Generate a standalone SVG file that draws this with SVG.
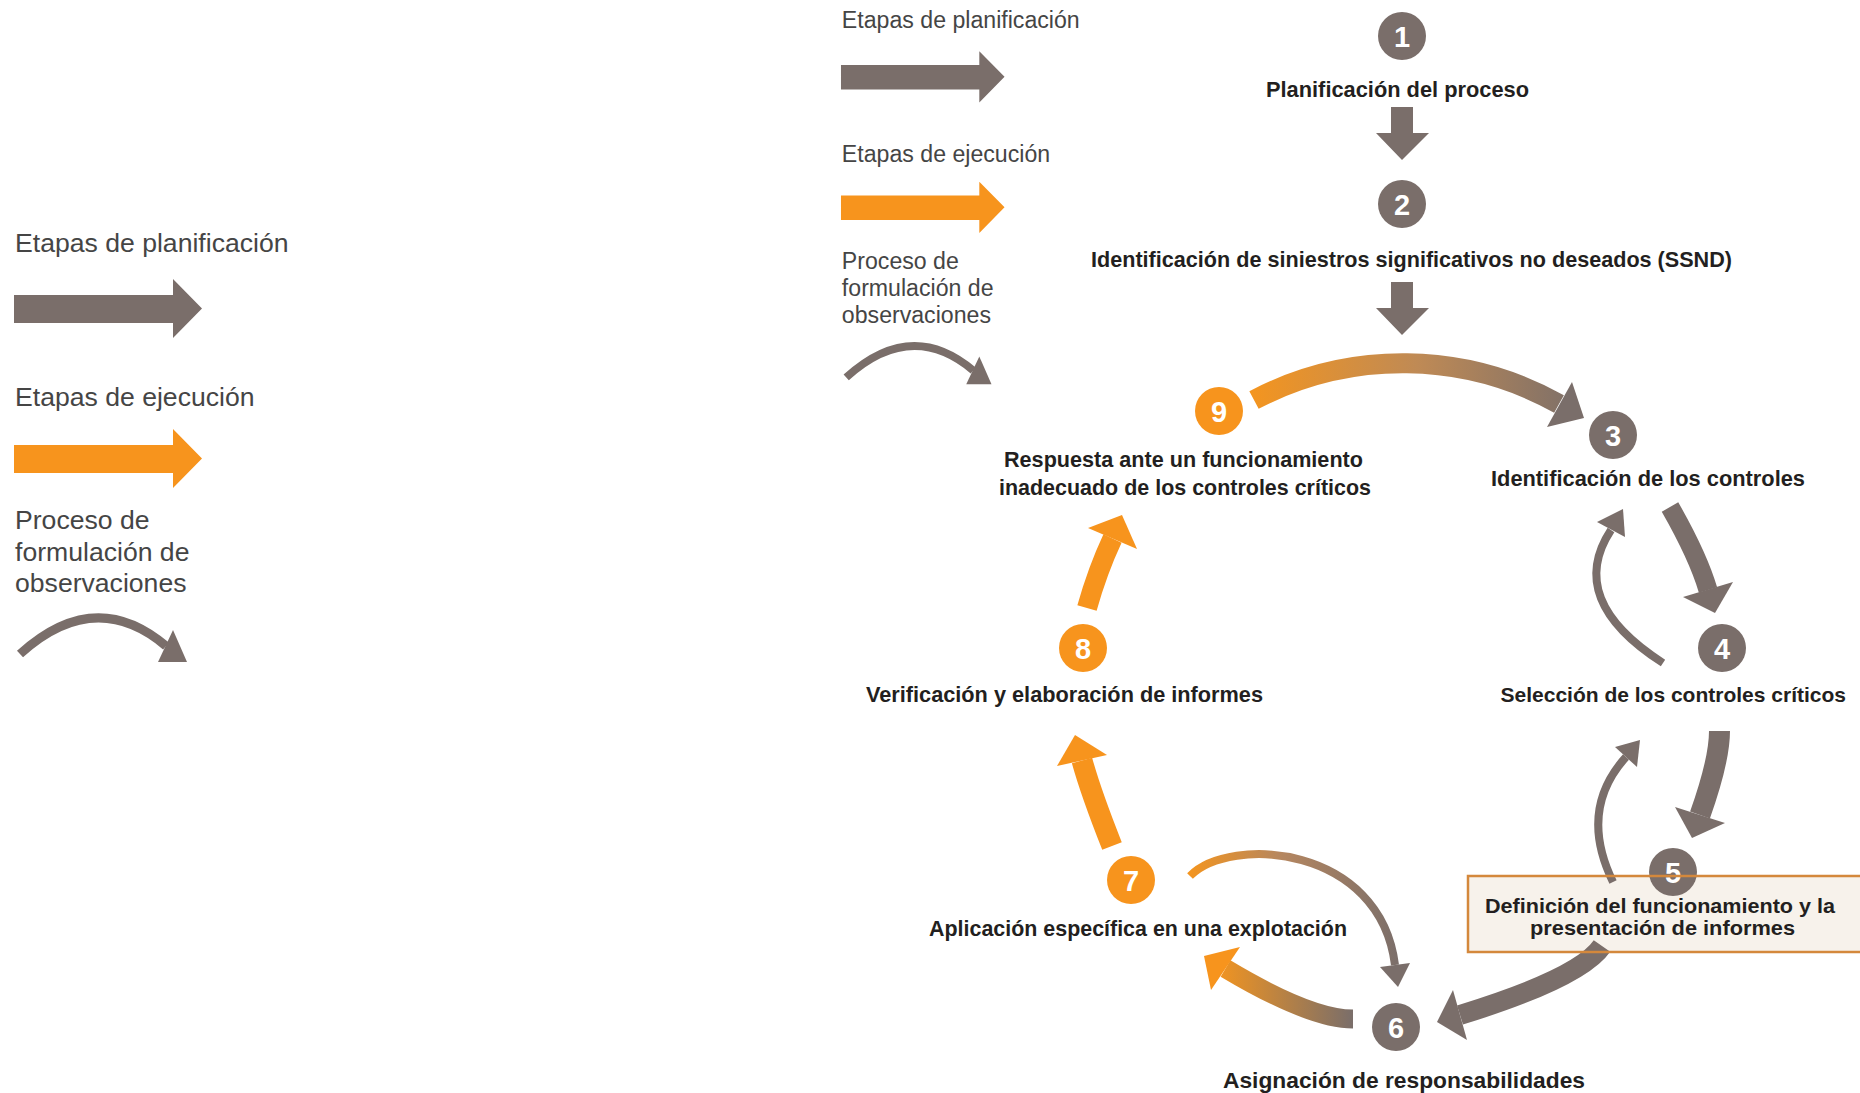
<svg xmlns="http://www.w3.org/2000/svg" width="1860" height="1093" viewBox="0 0 1860 1093">
  <style>
    .lg { font-family: "Liberation Sans", Arial, sans-serif; font-size: 26.6px; fill: #454545; }
    .lb { font-family: "Liberation Sans", Arial, sans-serif; font-size: 22.5px; font-weight: bold; fill: #231f20; }
    .lb2 { font-family: "Liberation Sans", Arial, sans-serif; font-size: 20.5px; font-weight: bold; fill: #231f20; }
    .num { font-family: "Liberation Sans", Arial, sans-serif; font-size: 29px; font-weight: bold; fill: #ffffff; text-anchor: middle; }
    .gray { fill: #7a6e6a; }
    .orange { fill: #f7941d; }
    .sg { fill: none; stroke: #7a6e6a; stroke-linecap: butt; }
    .so { fill: none; stroke: #f7941d; stroke-linecap: butt; }
  </style>
  <defs>
    <linearGradient id="grad-9-3" gradientUnits="userSpaceOnUse" x1="1250" y1="0" x2="1585" y2="0">
      <stop offset="0" stop-color="#f4951f"/>
      <stop offset="0.5" stop-color="#bf8a55"/>
      <stop offset="1" stop-color="#7a6e6a"/>
    </linearGradient>
    <linearGradient id="grad-6-7" gradientUnits="userSpaceOnUse" x1="1353" y1="0" x2="1215" y2="0">
      <stop offset="0" stop-color="#7a6e6a"/>
      <stop offset="1" stop-color="#f4951f"/>
    </linearGradient>
    <linearGradient id="grad-7-6" gradientUnits="userSpaceOnUse" x1="1188" y1="0" x2="1400" y2="0">
      <stop offset="0" stop-color="#f4951f"/>
      <stop offset="0.45" stop-color="#b48660"/>
      <stop offset="1" stop-color="#7a6e6a"/>
    </linearGradient>
  </defs>

  <rect width="1860" height="1093" fill="#ffffff"/>

  <!-- legend, left -->
  <g id="legend">
    <text class="lg" x="15" y="252">Etapas de planificación</text>
    <polygon class="gray" points="14,295 173,295 173,279 202,308.5 173,338 173,323 14,323"/>
    <text class="lg" x="15" y="406">Etapas de ejecución</text>
    <polygon class="orange" points="14,445 173,445 173,429 202,458.5 173,488 173,473 14,473"/>
    <text class="lg" x="15" y="529">Proceso de</text>
    <text class="lg" x="15" y="561">formulación de</text>
    <text class="lg" x="15" y="592">observaciones</text>
    <path class="sg" stroke-width="9" d="M20,654 Q95,586 166,646"/>
    <polygon class="gray" points="173,630 187,662 158,662"/>
  </g>

  <!-- legend, top (smaller copy) -->
  <g id="legend-top" transform="translate(828.8 -191.6) scale(0.87)">
    <text class="lg" x="15" y="252">Etapas de planificación</text>
    <polygon class="gray" points="14,295 173,295 173,279 202,308.5 173,338 173,323 14,323"/>
    <text class="lg" x="15" y="406">Etapas de ejecución</text>
    <polygon class="orange" points="14,445 173,445 173,429 202,458.5 173,488 173,473 14,473"/>
    <text class="lg" x="15" y="529">Proceso de</text>
    <text class="lg" x="15" y="561">formulación de</text>
    <text class="lg" x="15" y="592">observaciones</text>
    <path class="sg" stroke-width="9" d="M20,654 Q95,586 166,646"/>
    <polygon class="gray" points="173,630 187,662 158,662"/>
  </g>

  <!-- box background behind step 5 -->
  <rect id="box-5-fill" x="1468" y="876" width="400" height="76" fill="#f7f2eb"/>

  <!-- connectors -->
  <g id="connectors">
    <!-- 1 -> 2 -->
    <polygon class="gray" points="1391,107 1413,107 1413,133 1429,133 1402,160 1376,133 1391,133"/>
    <!-- 2 -> 3 -->
    <polygon class="gray" points="1391,282 1413,282 1413,308 1429,308 1402,335 1376,308 1391,308"/>
    <!-- 9 -> 3 -->
    <path fill="none" stroke="url(#grad-9-3)" stroke-width="20" d="M1254,400 A320,320 0 0 1 1559,404"/>
    <polygon class="gray" points="1572,382 1584,418 1547,427"/>
    <!-- 3 -> 4 -->
    <path class="sg" stroke-width="19" d="M1670,507 Q1698,556 1708,590"/>
    <polygon class="gray" points="1683,597 1715,613 1733,582"/>
    <!-- 4 -> 3 -->
    <path class="sg" stroke-width="8" d="M1663,663 Q1565,600 1611,530"/>
    <polygon class="gray" points="1597,522 1623,509 1625,537"/>
    <!-- 4 -> 5 -->
    <path class="sg" stroke-width="21" d="M1719.5,731 Q1719.5,760 1700,815"/>
    <polygon class="gray" points="1675,807 1692,838 1725,823"/>
    <!-- 5 -> 4 -->
    <path class="sg" stroke-width="8" d="M1613,882 Q1578,810 1626,757"/>
    <polygon class="gray" points="1615,747 1640,740 1637,767"/>
    <!-- 5 -> 6 -->
    <path class="sg" stroke-width="20" d="M1602,946 Q1580,978 1460,1015"/>
    <polygon class="gray" points="1453,990 1437,1022 1467,1040"/>
    <!-- 6 -> 7 -->
    <path fill="none" stroke="url(#grad-6-7)" stroke-width="19" d="M1353,1019 Q1310,1019 1225.5,968.5"/>
    <polygon class="orange" points="1240,947 1204,956 1211,990"/>
    <!-- 7 -> 6 -->
    <path fill="none" stroke="url(#grad-7-6)" stroke-width="8" d="M1190,876 C1230,835 1380,845 1395,965"/>
    <polygon class="gray" points="1380,967 1398,987 1410,963"/>
    <!-- 7 -> 8 -->
    <path class="so" stroke-width="21" d="M1112,846 Q1091,793 1082,760.5"/>
    <polygon class="orange" points="1057,766 1075,735 1107,755"/>
    <!-- 8 -> 9 -->
    <path class="so" stroke-width="20" d="M1087,608 Q1097.5,570.6 1112.5,538.5"/>
    <polygon class="orange" points="1088,528 1122,515 1137,549"/>
  </g>

  <!-- steps -->
  <g id="node-1">
    <circle class="gray" cx="1402" cy="36" r="24"/>
    <text class="num" x="1402" y="46.5">1</text>
    <text class="lb" x="1266" y="97" textLength="263" lengthAdjust="spacingAndGlyphs">Planificación del proceso</text>
  </g>
  <g id="node-2">
    <circle class="gray" cx="1402" cy="204" r="24"/>
    <text class="num" x="1402" y="214.5">2</text>
    <text class="lb" x="1091" y="267" textLength="641" lengthAdjust="spacingAndGlyphs">Identificación de siniestros significativos no deseados (SSND)</text>
  </g>
  <g id="node-3">
    <circle class="gray" cx="1613" cy="435" r="24"/>
    <text class="num" x="1613" y="445.5">3</text>
    <text class="lb" x="1491" y="486" textLength="314" lengthAdjust="spacingAndGlyphs">Identificación de los controles</text>
  </g>
  <g id="node-4">
    <circle class="gray" cx="1722" cy="648" r="24"/>
    <text class="num" x="1722" y="658.5">4</text>
    <text class="lb" x="1846" y="702" style="font-size:21px" text-anchor="end">Selección de los controles críticos</text>
  </g>
  <g id="node-5">
    <circle class="gray" cx="1673" cy="872" r="24"/>
    <text class="num" x="1673" y="882.5">5</text>
    <rect x="1468" y="876" width="400" height="76" fill="none" stroke="#d4883c" stroke-width="2.5"/>
    <text class="lb2" x="1485" y="913" textLength="350" lengthAdjust="spacingAndGlyphs">Definición del funcionamiento y la</text>
    <text class="lb2" x="1530" y="935" textLength="265" lengthAdjust="spacingAndGlyphs">presentación de informes</text>
  </g>
  <g id="node-6">
    <circle class="gray" cx="1396" cy="1027" r="24"/>
    <text class="num" x="1396" y="1037.5">6</text>
    <text class="lb" x="1223" y="1088" textLength="362" lengthAdjust="spacingAndGlyphs">Asignación de responsabilidades</text>
  </g>
  <g id="node-7">
    <circle class="orange" cx="1131" cy="880" r="24"/>
    <text class="num" x="1131" y="890.5">7</text>
    <text class="lb" x="929" y="936" textLength="418" lengthAdjust="spacingAndGlyphs">Aplicación específica en una explotación</text>
  </g>
  <g id="node-8">
    <circle class="orange" cx="1083" cy="648" r="24"/>
    <text class="num" x="1083" y="658.5">8</text>
    <text class="lb" x="866" y="702" textLength="397" lengthAdjust="spacingAndGlyphs">Verificación y elaboración de informes</text>
  </g>
  <g id="node-9">
    <circle class="orange" cx="1219" cy="411" r="24"/>
    <text class="num" x="1219" y="421.5">9</text>
    <text class="lb" x="1004" y="467" textLength="359" lengthAdjust="spacingAndGlyphs">Respuesta ante un funcionamiento</text>
    <text class="lb" x="999" y="495" textLength="372" lengthAdjust="spacingAndGlyphs">inadecuado de los controles críticos</text>
  </g>
</svg>
